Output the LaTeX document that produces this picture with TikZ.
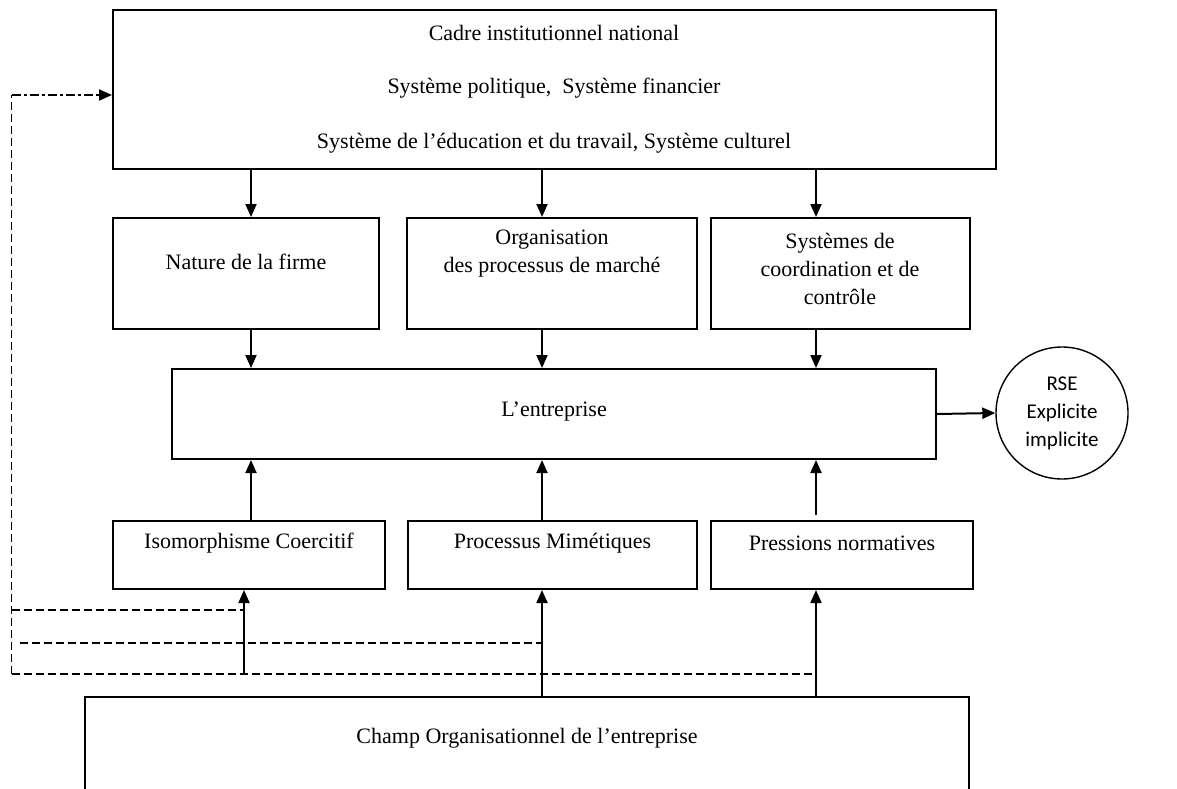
\documentclass[tikz,border=0pt]{standalone}
\usepackage{fontspec}
\setmainfont{Liberation Serif}
\newfontfamily\rsefont{Carlito}
\usetikzlibrary{arrows.meta}
\begin{document}
\begin{tikzpicture}[x=1pt,y=-1pt,
  box/.style={draw, line width=2pt, inner sep=0pt},
  lbl/.style={font=\fontsize{22}{28}\selectfont, inner sep=0pt, align=center},
  arr/.style={line width=2pt, -{Triangle[length=13pt,width=11pt]}},
  feed/.style={line width=1.8pt, dash pattern=on 8pt off 4pt},
  feedtip/.style={line width=1.8pt, dash pattern=on 9pt off 3pt on 3pt off 3pt,
                  -{Triangle[length=13pt,width=11pt]}}
]
\clip (0,0) rectangle (1177,789);

% --- boxes ---
\node[box, minimum width=883pt, minimum height=159pt] (top) at (554.5,89.5) {};
\node[box, minimum width=266pt, minimum height=111pt] (m1) at (246,273.5) {};
\node[box, minimum width=290pt, minimum height=111pt] (m2) at (552,273.5) {};
\node[box, minimum width=259pt, minimum height=111pt] (m3) at (840.5,273.5) {};
\node[box, minimum width=764pt, minimum height=90pt] (ent) at (554,414) {};
\node[box, minimum width=272pt, minimum height=68pt] (l1) at (249,555) {};
\node[box, minimum width=289pt, minimum height=68pt] (l2) at (552.5,555) {};
\node[box, minimum width=262pt, minimum height=68pt] (l3) at (842,555) {};
\node[box, minimum width=884pt, minimum height=123pt] (champ) at (527,758.5) {};
\node[draw, circle, line width=1.4pt, minimum size=132pt, inner sep=0pt] (rse) at (1062,413) {};

% --- texts ---
\node[lbl] (t1) at (554,33) {Cadre institutionnel national};
\node[lbl] (t2) at (554,88) {Système politique,~ Système financier};
\node[lbl] (t3) at (554,143) {Système de l’éducation et du travail, Système culturel};
\node[lbl] (tm1) at (246,262) {Nature de la firme};
\node[lbl] (tm2) at (552,254) {Organisation\\des processus de marché};
\node[lbl] (tm3) at (840,269) {Systèmes de\\coordination et de\\contrôle};
\node[lbl] (tent) at (554,412) {L’entreprise};
\node[lbl] (tl1) at (249,543) {Isomorphisme Coercitif};
\node[lbl] (tl2) at (552.5,543) {Processus Mimétiques};
\node[lbl] (tl3) at (842,543) {Pressions normatives};
\node[lbl] (tch) at (527,738) {Champ Organisationnel de l’entreprise};
\node[lbl, font=\rsefont\fontsize{21}{28}\selectfont] (trse) at (1062,413) {RSE\\Explicite\\implicite};

% --- connector columns ---
\coordinate (xa) at (251,0);
\coordinate (xb) at (542,0);
\coordinate (xc) at (816,0);
\coordinate (xd) at (244,0);

% top frame to the three middle boxes
\draw[arr] (top.south -| xa) -- (m1.north -| xa);
\draw[arr] (top.south -| xb) -- (m2.north -| xb);
\draw[arr] (top.south -| xc) -- (m3.north -| xc);

% middle boxes to the firm
\draw[arr] (m1.south -| xa) -- (ent.north -| xa);
\draw[arr] (m2.south -| xb) -- (ent.north -| xb);
\draw[arr] (m3.south -| xc) -- (ent.north -| xc);

% pressures to the firm
\coordinate (p3) at (816,515);
\draw[arr] (l1.north -| xa) -- (ent.south -| xa);
\draw[arr] (l2.north -| xb) -- (ent.south -| xb);
\draw[arr] (p3) -- (ent.south -| xc);

% firm to CSR
\draw[arr] (ent.east) -- (rse.west);

% organisational field to the pressures
\coordinate (f0) at (11.5,95);
\coordinate (f1) at (11.5,610);
\coordinate (g2) at (20,643);
\coordinate (f2) at (11.5,674);
\draw[arr] (f2 -| xd) -- (l1.south -| xd);
\draw[arr] (champ.north -| xb) -- (l2.south -| xb);
\draw[arr] (champ.north -| xc) -- (l3.south -| xc);

% feedback loop back to the institutional frame
\draw[feed] (f2) -- (f0);
\draw[feedtip] (f0) -- (top.west |- f0);
\draw[feed] (f1) -- (f1 -| xd);
\draw[feed] (g2) -- (g2 -| xb);
\draw[feed] (f2) -- (f2 -| xc);
\end{tikzpicture}
\end{document}
